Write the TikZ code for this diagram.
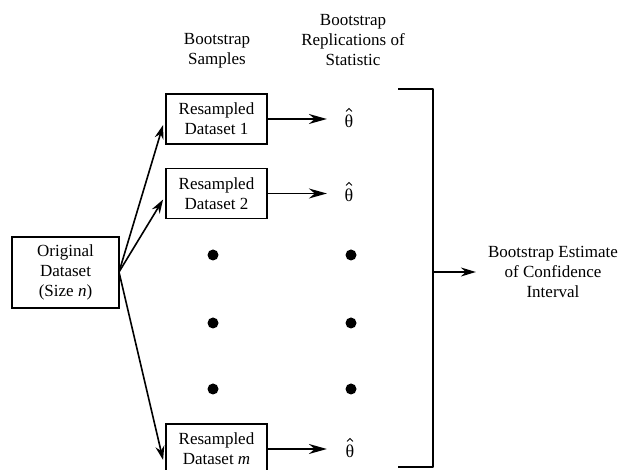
\documentclass[tikz,border=0pt]{standalone}
\usepackage{fontspec}
\setmainfont{Liberation Serif}
\usetikzlibrary{arrows.meta,calc}
\begin{document}
\begin{tikzpicture}[x=1pt,y=-1pt,
  every node/.style={font=\fontsize{17}{20}\selectfont},
  box/.style={draw,line width=1.8pt,minimum width=101pt,minimum height=50pt,align=center,inner sep=0pt},
  fan/.style={line width=1.6pt,-{Stealth[length=14pt,width=9pt]}},
  arr/.style={line width=1.6pt,-{Stealth[length=18pt,width=10pt]}},
  lbl/.style={align=center,inner sep=0pt},
  theta/.style={inner sep=0pt,font=\fontsize{18}{20}\selectfont},
  hat/.style={line width=0.9pt,line join=miter},
  dot/.style={circle,fill,inner sep=0pt,minimum size=11pt}]
\useasboundingbox (0,0) rectangle (625,470);
% headers
\node[lbl] (h1) at (217,51) {Bootstrap\\Samples};
\node[lbl] (h2) at (353,40) {Bootstrap\\Replications of\\Statistic};
% original dataset
\node[box,minimum width=107pt,minimum height=71pt] (orig) at (65.5,272.5) {Original\\Dataset\\(Size \textit{n})};
% resampled datasets
\node[box] (r1) at (216.5,119) {Resampled\\Dataset 1};
\node[box] (r2) at (216.5,193.5) {Resampled\\Dataset 2};
\node[box] (rm) at (216.5,449) {Resampled\\Dataset \textit{m}};
% theta hats
\node[theta] (t1) at (349,121) {θ};
\node[theta] (t2) at (349,195) {θ};
\node[theta] (tm) at (350,451) {θ};
\foreach \t in {t1,t2,tm}{
  \draw[hat] ($(\t.north)+(-3,-3)$) -- ($(\t.north)+(0,-6)$) -- ($(\t.north)+(3,-3)$);
}
% dots
\node[dot] (d1a) at (213,255) {};
\node[dot] (d2a) at (213,323) {};
\node[dot] (d3a) at (213,389) {};
\node[dot] (d1b) at (351,255) {};
\node[dot] (d2b) at (351,323) {};
\node[dot] (d3b) at (351,389) {};
% fan arrows
\coordinate (src) at (119,272);
\draw[fan] (src) -- ($(r1.west)+(-2,6)$);
\draw[fan] (src) -- ($(r2.west)+(-2,6)$);
\draw[fan] (src) -- ($(rm.west)+(-2,11)$);
% arrows to theta
\draw[arr] (r1.east) -- ($(r1.east)+(59,0)$);
\draw[arr] (r2.east) -- ($(r2.east)+(59,0)$);
\draw[arr] (rm.east) -- ($(rm.east)+(59,0)$);
% bracket
\coordinate (b1) at (398,89);
\coordinate (b2) at (433,89);
\coordinate (b3) at (433,467);
\coordinate (b4) at (398,467);
\coordinate (bm) at (433,272);
\draw[line width=1.8pt,line join=round] (b1) -- (b2) -- (b3) -- (b4);
\node[lbl] (est) at (553,272) {Bootstrap Estimate\\of Confidence\\Interval};
\draw[line width=1.6pt,-{Stealth[length=15pt,width=9pt]}] (bm) -- ($(est.west)+(-12,0)$);
\end{tikzpicture}
\end{document}
